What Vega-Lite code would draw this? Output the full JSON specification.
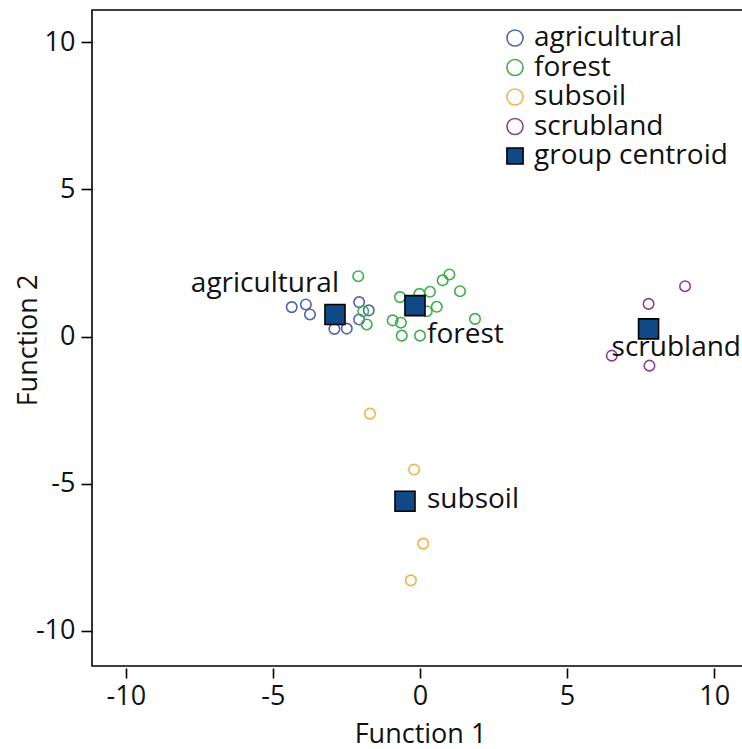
{
  "$schema": "https://vega.github.io/schema/vega-lite/v6.json",
  "autosize": "none",
  "padding": {"left": 92, "top": 10, "right": 0, "bottom": 83},
  "width": 656,
  "height": 656,
  "background": "white",
  "config": {
    "font": "Open Sans",
    "view": {"stroke": "black", "strokeWidth": 1.6},
    "axis": {
      "grid": false,
      "domain": false,
      "tickColor": "black",
      "tickWidth": 1.6,
      "labelColor": "#111",
      "titleColor": "#111",
      "labelFont": "Open Sans",
      "titleFont": "Open Sans",
      "labelFontSize": 27,
      "titleFontSize": 27,
      "titleFontWeight": "normal",
      "labelExpr": "datum.value < 0 ? '-' + abs(datum.value) : '' + datum.value"
    }
  },
  "data": {
    "values": [
      {"kind": "sample", "group": "agricultural", "name": "agricultural", "f1": -4.36, "f2": 1.00},
      {"kind": "sample", "group": "agricultural", "name": "agricultural", "f1": -3.88, "f2": 1.09},
      {"kind": "sample", "group": "agricultural", "name": "agricultural", "f1": -3.74, "f2": 0.75},
      {"kind": "sample", "group": "agricultural", "name": "agricultural", "f1": -2.91, "f2": 0.26},
      {"kind": "sample", "group": "agricultural", "name": "agricultural", "f1": -2.49, "f2": 0.27},
      {"kind": "sample", "group": "agricultural", "name": "agricultural", "f1": -2.07, "f2": 1.17},
      {"kind": "sample", "group": "agricultural", "name": "agricultural", "f1": -1.74, "f2": 0.89},
      {"kind": "sample", "group": "agricultural", "name": "agricultural", "f1": -2.07, "f2": 0.58},
      {"kind": "sample", "group": "forest", "name": "forest", "f1": -2.10, "f2": 2.05},
      {"kind": "sample", "group": "forest", "name": "forest", "f1": -0.68, "f2": 1.34},
      {"kind": "sample", "group": "forest", "name": "forest", "f1": -0.02, "f2": 1.45},
      {"kind": "sample", "group": "forest", "name": "forest", "f1": 0.34, "f2": 1.52},
      {"kind": "sample", "group": "forest", "name": "forest", "f1": 0.77, "f2": 1.91},
      {"kind": "sample", "group": "forest", "name": "forest", "f1": 1.00, "f2": 2.11},
      {"kind": "sample", "group": "forest", "name": "forest", "f1": 1.36, "f2": 1.54},
      {"kind": "sample", "group": "forest", "name": "forest", "f1": 0.57, "f2": 1.01},
      {"kind": "sample", "group": "forest", "name": "forest", "f1": 0.23, "f2": 0.86},
      {"kind": "sample", "group": "forest", "name": "forest", "f1": -0.93, "f2": 0.55},
      {"kind": "sample", "group": "forest", "name": "forest", "f1": -0.65, "f2": 0.47},
      {"kind": "sample", "group": "forest", "name": "forest", "f1": -0.62, "f2": 0.03},
      {"kind": "sample", "group": "forest", "name": "forest", "f1": 0.00, "f2": 0.03},
      {"kind": "sample", "group": "forest", "name": "forest", "f1": 1.87, "f2": 0.60},
      {"kind": "sample", "group": "forest", "name": "forest", "f1": -1.81, "f2": 0.41},
      {"kind": "sample", "group": "forest", "name": "forest", "f1": -1.93, "f2": 0.86},
      {"kind": "sample", "group": "subsoil", "name": "subsoil", "f1": -1.70, "f2": -2.62},
      {"kind": "sample", "group": "subsoil", "name": "subsoil", "f1": -0.20, "f2": -4.52},
      {"kind": "sample", "group": "subsoil", "name": "subsoil", "f1": 0.11, "f2": -7.04},
      {"kind": "sample", "group": "subsoil", "name": "subsoil", "f1": -0.31, "f2": -8.29},
      {"kind": "sample", "group": "scrubland", "name": "scrubland", "f1": 9.01, "f2": 1.71},
      {"kind": "sample", "group": "scrubland", "name": "scrubland", "f1": 7.77, "f2": 1.11},
      {"kind": "sample", "group": "scrubland", "name": "scrubland", "f1": 6.52, "f2": -0.65},
      {"kind": "sample", "group": "scrubland", "name": "scrubland", "f1": 7.80, "f2": -0.99},
      {"kind": "centroid", "group": "group centroid", "name": "agricultural", "f1": -2.89, "f2": 0.75},
      {"kind": "centroid", "group": "group centroid", "name": "forest", "f1": -0.17, "f2": 1.05},
      {"kind": "centroid", "group": "group centroid", "name": "subsoil", "f1": -0.51, "f2": -5.60},
      {"kind": "centroid", "group": "group centroid", "name": "scrubland", "f1": 7.77, "f2": 0.26}
    ]
  },
  "encoding": {
    "x": {
      "field": "f1", "type": "quantitative",
      "scale": {"domain": [-11.15, 11.15], "nice": false, "zero": false},
      "axis": {"title": "Function 1", "values": [-10, -5, 0, 5, 10], "offset": 2, "tickSize": 10, "labelPadding": 5, "titlePadding": 12}
    },
    "y": {
      "field": "f2", "type": "quantitative",
      "scale": {"domain": [-11.2, 11.1], "nice": false, "zero": false},
      "axis": {"title": "Function 2", "values": [-10, -5, 0, 5, 10], "offset": 0, "tickSize": 11, "labelPadding": 6,
               "titleX": -64, "titleY": 330, "titleAngle": 270, "titleAlign": "center", "titleBaseline": "middle"}
    }
  },
  "layer": [
    {
      "mark": {"type": "point", "strokeWidth": 1.6, "opacity": 1},
      "encoding": {
        "stroke": {
          "field": "group", "type": "nominal",
          "scale": {"domain": ["agricultural", "forest", "subsoil", "scrubland", "group centroid"], "range": ["#5262b3", "#3fae4a", "#f1b24a", "#8c3f91", "#000000"]},
          "legend": {
            "title": null, "orient": "none", "legendX": 409, "legendY": 14,
            "labelFontSize": 28, "labelFont": "Open Sans", "labelColor": "#111", "labelLimit": 0,
            "symbolSize": 260, "symbolStrokeWidth": 1.6, "rowPadding": 1.5, "labelOffset": 5
          }
        },
        "fill": {
          "field": "group", "type": "nominal",
          "scale": {"domain": ["agricultural", "forest", "subsoil", "scrubland", "group centroid"], "range": ["transparent", "transparent", "transparent", "transparent", "#0f4a86"]}
        },
        "shape": {
          "field": "group", "type": "nominal",
          "scale": {"domain": ["agricultural", "forest", "subsoil", "scrubland", "group centroid"], "range": ["circle", "circle", "circle", "circle", "square"]}
        },
        "size": {
          "field": "kind", "type": "nominal",
          "scale": {"domain": ["sample", "centroid"], "range": [110, 400]},
          "legend": null
        }
      }
    },
    {
      "transform": [{"filter": "datum.kind === 'centroid' && datum.name === 'agricultural'"}],
      "mark": {"type": "text", "align": "right", "baseline": "middle", "dx": 4, "dy": -30, "fontSize": 28, "color": "#111"},
      "encoding": {"text": {"field": "name"}}
    },
    {
      "transform": [{"filter": "datum.kind === 'centroid' && datum.name === 'forest'"}],
      "mark": {"type": "text", "align": "left", "baseline": "middle", "dx": 12, "dy": 29, "fontSize": 28, "color": "#111"},
      "encoding": {"text": {"field": "name"}}
    },
    {
      "transform": [{"filter": "datum.kind === 'centroid' && datum.name === 'subsoil'"}],
      "mark": {"type": "text", "align": "left", "baseline": "middle", "dx": 22, "dy": -1, "fontSize": 28, "color": "#111"},
      "encoding": {"text": {"field": "name"}}
    },
    {
      "transform": [{"filter": "datum.kind === 'centroid' && datum.name === 'scrubland'"}],
      "mark": {"type": "text", "align": "left", "baseline": "middle", "dx": -37, "dy": 19, "fontSize": 28, "color": "#111"},
      "encoding": {"text": {"field": "name"}}
    }
  ]
}
